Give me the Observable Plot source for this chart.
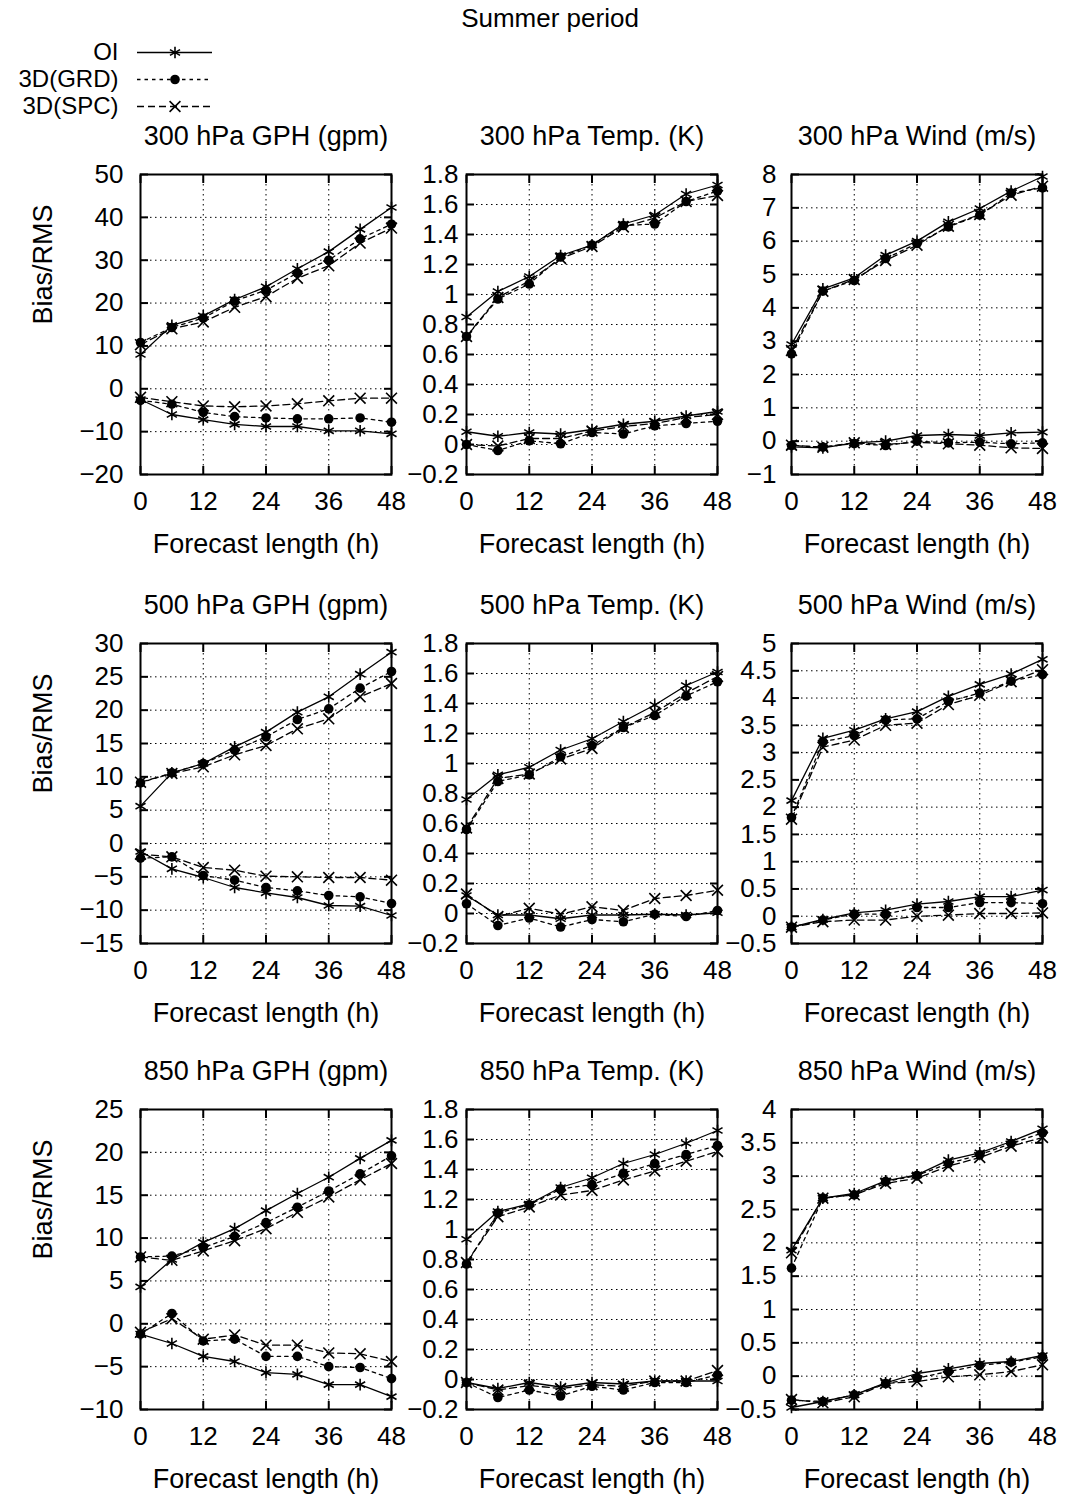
<!DOCTYPE html>
<html><head><meta charset="utf-8">
<script src="https://cdn.jsdelivr.net/npm/d3@7"></script>
<script src="https://cdn.jsdelivr.net/npm/@observablehq/plot@0.6"></script>
<style>
html,body{margin:0;padding:0;background:#fff;}
#root{position:relative;width:1067px;height:1495px;background:#fff;font-family:"Liberation Sans",Arial,sans-serif;color:#000;overflow:hidden;}
#title{position:absolute;left:0;width:1100px;top:3px;text-align:center;font-size:26px;line-height:30px;}
</style></head>
<body><div id="root"><div id="title">Summer period</div></div>
<script>
// ---------------- data ----------------
const hours = [0, 6, 12, 18, 24, 30, 36, 42, 48];
const hourTicks = [0, 12, 24, 36, 48];
const seriesNames = ["OI", "3D(GRD)", "3D(SPC)"];
const panelTitles = [
  "300 hPa GPH (gpm)", "300 hPa Temp. (K)", "300 hPa Wind (m/s)",
  "500 hPa GPH (gpm)", "500 hPa Temp. (K)", "500 hPa Wind (m/s)",
  "850 hPa GPH (gpm)", "850 hPa Temp. (K)", "850 hPa Wind (m/s)"
];
const xLabel = "Forecast length (h)";
const yLabel = "Bias/RMS";

// y tick labels per panel
const ticksGPH300 = [-20, -10, 0, 10, 20, 30, 40, 50];
const ticksTemp300 = [-0.2, 0, 0.2, 0.4, 0.6, 0.8, 1, 1.2, 1.4, 1.6, 1.8];
const ticksWind300 = [-1, 0, 1, 2, 3, 4, 5, 6, 7, 8];
const ticksGPH500 = [-15, -10, -5, 0, 5, 10, 15, 20, 25, 30];
const ticksTemp500 = [-0.2, 0, 0.2, 0.4, 0.6, 0.8, 1, 1.2, 1.4, 1.6, 1.8];
const ticksWind500 = [-0.5, 0, 0.5, 1, 1.5, 2, 2.5, 3, 3.5, 4, 4.5, 5];
const ticksGPH850 = [-10, -5, 0, 5, 10, 15, 20, 25];
const ticksTemp850 = [-0.2, 0, 0.2, 0.4, 0.6, 0.8, 1, 1.2, 1.4, 1.6, 1.8];
const ticksWind850 = [-0.5, 0, 0.5, 1, 1.5, 2, 2.5, 3, 3.5, 4];

// each: [OI, 3D(GRD), 3D(SPC)] at hours 0..48
const rmsGPH300 = [
  [8.0, 14.8, 17.0, 20.8, 23.8, 28.0, 32.0, 37.2, 42.3],
  [10.8, 14.3, 16.5, 20.5, 23.0, 27.0, 30.0, 35.0, 38.4],
  [10.3, 14.0, 15.6, 19.0, 21.5, 25.8, 28.7, 34.0, 37.5]];
const biasGPH300 = [
  [-2.5, -6.0, -7.2, -8.3, -8.8, -8.8, -9.8, -9.8, -10.5],
  [-2.7, -3.6, -5.5, -6.5, -6.8, -7.0, -7.0, -6.8, -7.8],
  [-2.0, -3.0, -4.0, -4.2, -4.0, -3.5, -2.8, -2.2, -2.2]];
const rmsTemp300 = [
  [0.85, 1.02, 1.12, 1.26, 1.33, 1.47, 1.53, 1.67, 1.73],
  [0.72, 0.97, 1.07, 1.25, 1.33, 1.46, 1.47, 1.62, 1.69],
  [0.72, 0.98, 1.09, 1.24, 1.32, 1.45, 1.51, 1.62, 1.66]];
const biasTemp300 = [
  [0.085, 0.055, 0.08, 0.07, 0.10, 0.135, 0.155, 0.19, 0.22],
  [0.0, -0.04, 0.025, 0.005, 0.08, 0.07, 0.125, 0.14, 0.155],
  [0.0, -0.01, 0.04, 0.04, 0.09, 0.12, 0.14, 0.18, 0.20]];
const rmsWind300 = [
  [2.9, 4.57, 4.9, 5.58, 6.0, 6.58, 6.98, 7.5, 7.94],
  [2.62, 4.5, 4.82, 5.48, 5.93, 6.43, 6.78, 7.44, 7.6],
  [2.72, 4.5, 4.85, 5.42, 5.88, 6.45, 6.8, 7.38, 7.65]];
const biasWind300 = [
  [-0.17, -0.2, -0.05, 0.0, 0.17, 0.2, 0.17, 0.25, 0.27],
  [-0.13, -0.18, -0.07, -0.13, 0.0, -0.05, -0.03, -0.08, -0.05],
  [-0.12, -0.18, -0.05, -0.1, -0.03, -0.08, -0.12, -0.2, -0.22]];
const rmsGPH500 = [
  [5.6, 10.6, 12.0, 14.5, 16.7, 19.7, 22.0, 25.4, 28.7],
  [9.1, 10.6, 12.0, 14.0, 16.0, 18.6, 20.2, 23.3, 25.8],
  [9.2, 10.5, 11.5, 13.3, 14.7, 17.2, 18.7, 22.0, 24.0]];
const biasGPH500 = [
  [-1.2, -3.8, -5.1, -6.6, -7.4, -8.1, -9.3, -9.4, -10.8],
  [-2.2, -2.0, -4.8, -5.5, -6.6, -7.1, -7.8, -8.0, -9.0],
  [-1.6, -2.0, -3.6, -4.0, -4.9, -5.0, -5.1, -5.1, -5.5]];
const rmsTemp500 = [
  [0.76, 0.925, 0.975, 1.09, 1.165, 1.28, 1.39, 1.52, 1.61],
  [0.56, 0.88, 0.925, 1.045, 1.12, 1.24, 1.32, 1.45, 1.545],
  [0.57, 0.9, 0.93, 1.03, 1.1, 1.24, 1.34, 1.47, 1.58]];
const biasTemp500 = [
  [0.12, -0.01, -0.01, -0.035, -0.01, -0.01, -0.005, -0.01, 0.005],
  [0.065, -0.08, -0.03, -0.09, -0.04, -0.055, -0.005, -0.02, 0.02],
  [0.13, -0.02, 0.035, -0.005, 0.045, 0.02, 0.1, 0.12, 0.155]];
const rmsWind500 = [
  [2.12, 3.26, 3.41, 3.62, 3.75, 4.03, 4.25, 4.44, 4.71],
  [1.81, 3.2, 3.31, 3.6, 3.62, 3.94, 4.09, 4.31, 4.43],
  [1.78, 3.1, 3.23, 3.5, 3.54, 3.88, 4.05, 4.3, 4.52]];
const biasWind500 = [
  [-0.2, -0.06, 0.06, 0.11, 0.22, 0.27, 0.36, 0.36, 0.48],
  [-0.2, -0.07, 0.04, 0.04, 0.16, 0.16, 0.25, 0.25, 0.23],
  [-0.2, -0.1, -0.07, -0.07, 0.0, 0.02, 0.05, 0.05, 0.06]];
const rmsGPH850 = [
  [4.3, 7.5, 9.5, 11.1, 13.2, 15.2, 17.1, 19.3, 21.4],
  [7.8, 7.9, 8.9, 10.2, 11.8, 13.6, 15.5, 17.5, 19.6],
  [7.8, 7.4, 8.5, 9.7, 11.1, 13.0, 14.8, 16.8, 18.7]];
const biasGPH850 = [
  [-1.2, -2.3, -3.8, -4.4, -5.7, -5.9, -7.1, -7.1, -8.5],
  [-1.2, 1.2, -2.0, -1.8, -3.8, -3.8, -5.0, -5.1, -6.4],
  [-1.0, 0.6, -1.8, -1.3, -2.5, -2.5, -3.4, -3.5, -4.4]];
const rmsTemp850 = [
  [0.935, 1.12, 1.17, 1.28, 1.345, 1.44, 1.50, 1.575, 1.66],
  [0.77, 1.11, 1.165, 1.27, 1.30, 1.375, 1.44, 1.50, 1.56],
  [0.78, 1.085, 1.15, 1.23, 1.26, 1.33, 1.39, 1.455, 1.52]];
const biasTemp850 = [
  [-0.02, -0.06, -0.02, -0.05, -0.02, -0.03, -0.01, -0.01, -0.01],
  [-0.02, -0.12, -0.07, -0.11, -0.045, -0.07, -0.02, -0.02, 0.03],
  [-0.02, -0.07, -0.04, -0.06, -0.035, -0.045, -0.01, -0.01, 0.06]];
const rmsWind850 = [
  [1.89, 2.67, 2.74, 2.93, 3.02, 3.24, 3.35, 3.52, 3.71],
  [1.62, 2.67, 2.72, 2.92, 3.01, 3.19, 3.32, 3.49, 3.65],
  [1.85, 2.67, 2.72, 2.89, 2.97, 3.15, 3.28, 3.45, 3.58]];
const biasWind850 = [
  [-0.47, -0.38, -0.28, -0.1, 0.04, 0.11, 0.19, 0.22, 0.31],
  [-0.36, -0.38, -0.28, -0.11, -0.03, 0.07, 0.16, 0.21, 0.29],
  [-0.35, -0.4, -0.31, -0.11, -0.08, -0.01, 0.02, 0.07, 0.17]];

const panelRms = [rmsGPH300, rmsTemp300, rmsWind300, rmsGPH500, rmsTemp500, rmsWind500, rmsGPH850, rmsTemp850, rmsWind850];
const panelBias = [biasGPH300, biasTemp300, biasWind300, biasGPH500, biasTemp500, biasWind500, biasGPH850, biasTemp850, biasWind850];
const panelTicks = [ticksGPH300, ticksTemp300, ticksWind300, ticksGPH500, ticksTemp500, ticksWind500, ticksGPH850, ticksTemp850, ticksWind850];

// ---------------- styling / layout ----------------
const FONT = '"Liberation Sans", Arial, sans-serif';
const fmt = d => (d < 0 ? "\u2212" : "") + String(Math.abs(d));
const seriesStyle = [
  {dash: null, symbol: "asterisk", fill: "none", stroke: "black", r: 5.5},
  {dash: "3.5,4", symbol: "circle", fill: "black", stroke: "none", r: 4.8},
  {dash: "7,4", symbol: "times", fill: "none", stroke: "black", r: 5}
];
const colLeft = [140, 466, 791];
const rowTop = [174, 643, 1109];
const labelGap = [17, 8, 15];
const W = 251, H = 300;
const root = document.getElementById("root");

function place(svg, left, top) {
  svg.style.position = "absolute";
  svg.style.left = left + "px";
  svg.style.top = top + "px";
  svg.style.maxWidth = "none";
  root.appendChild(svg);
}

panelTitles.forEach((title, k) => {
  const col = k % 3, row = Math.floor(k / 3);
  const ticks = panelTicks[k];
  const mL = col === 0 ? 110 : 70, mR = 15, mT = 50, mB = 95;
  const rows = [];
  seriesNames.forEach((s, i) => hours.forEach((h, j) => {
    rows.push({h, v: panelRms[k][i][j], s, kind: "RMS"});
    rows.push({h, v: panelBias[k][i][j], s, kind: "Bias"});
  }));
  const marks = [
    Plot.gridY(ticks, {stroke: "black", strokeOpacity: 1, strokeWidth: 1, strokeDasharray: "1.5,3.5"}),
    Plot.gridX(hourTicks, {stroke: "black", strokeOpacity: 1, strokeWidth: 1, strokeDasharray: "1.5,3.5"})
  ];
  seriesNames.forEach((s, i) => {
    const st = seriesStyle[i];
    const d = rows.filter(r => r.s === s);
    marks.push(Plot.line(d, {x: "h", y: "v", z: "kind", stroke: "black", strokeWidth: 1.3, strokeDasharray: st.dash}));
  });
  seriesNames.forEach((s, i) => {
    const st = seriesStyle[i];
    const d = rows.filter(r => r.s === s);
    marks.push(Plot.dot(d, {x: "h", y: "v", symbol: st.symbol, r: st.r, fill: st.fill, stroke: st.stroke, strokeWidth: 1.6}));
  });
  marks.push(
    Plot.frame({stroke: "black", strokeWidth: 2}),
    Plot.axisY(ticks, {anchor: "left", tickSize: -8, tickPadding: labelGap[col] + 8, tickFormat: fmt, strokeWidth: 2, fontSize: 26, label: null}),
    Plot.axisY(ticks, {anchor: "right", tickSize: -8, tickFormat: () => "", strokeWidth: 2, label: null}),
    Plot.axisX(hourTicks, {anchor: "bottom", tickSize: -8, tickPadding: 25, tickFormat: fmt, strokeWidth: 2, fontSize: 26, label: null}),
    Plot.axisX(hourTicks, {anchor: "top", tickSize: -8, tickFormat: () => "", strokeWidth: 2, label: null}),
    Plot.text([title], {text: d => d, frameAnchor: "top", lineAnchor: "middle", dy: -38, fontSize: 27, fill: "black"}),
    Plot.text([xLabel], {text: d => d, frameAnchor: "bottom", lineAnchor: "middle", dy: 70, fontSize: 27, fill: "black"})
  );
  if (col === 0) marks.push(Plot.text([yLabel], {text: d => d, frameAnchor: "left", lineAnchor: "middle", dx: -97, rotate: -90, fontSize: 27, fill: "black"}));
  const svg = Plot.plot({
    width: mL + W + mR, height: mT + H + mB,
    marginLeft: mL, marginRight: mR, marginTop: mT, marginBottom: mB,
    x: {domain: [0, 48], label: null},
    y: {domain: [ticks[0], ticks[ticks.length - 1]], label: null},
    style: {fontFamily: FONT, fontSize: "26px", background: "transparent", color: "black", overflow: "visible"},
    marks
  });
  place(svg, colLeft[col] - mL, rowTop[row] - mT);
});

// ---------------- legend ----------------
const legendMarks = [];
seriesNames.forEach((s, i) => {
  const st = seriesStyle[i];
  legendMarks.push(Plot.ruleY([s], {y: d => d, stroke: "black", strokeWidth: 1.3, strokeDasharray: st.dash}));
  legendMarks.push(Plot.dot([s], {y: d => d, symbol: st.symbol, r: st.r, fill: st.fill, stroke: st.stroke, strokeWidth: 1.6}));
});
legendMarks.push(Plot.axisY(seriesNames, {anchor: "left", tickSize: 0, tickPadding: 19, fontSize: 24, label: null}));
const legend = Plot.plot({
  width: 220, height: 116,
  marginLeft: 137, marginRight: 8, marginTop: 52, marginBottom: 10,
  x: {domain: [0, 1], axis: null},
  y: {type: "point", domain: seriesNames, padding: 0, label: null},
  style: {fontFamily: FONT, fontSize: "24px", background: "transparent", color: "black", overflow: "visible"},
  marks: legendMarks
});
place(legend, 0, 0);
</script>
</body></html>
